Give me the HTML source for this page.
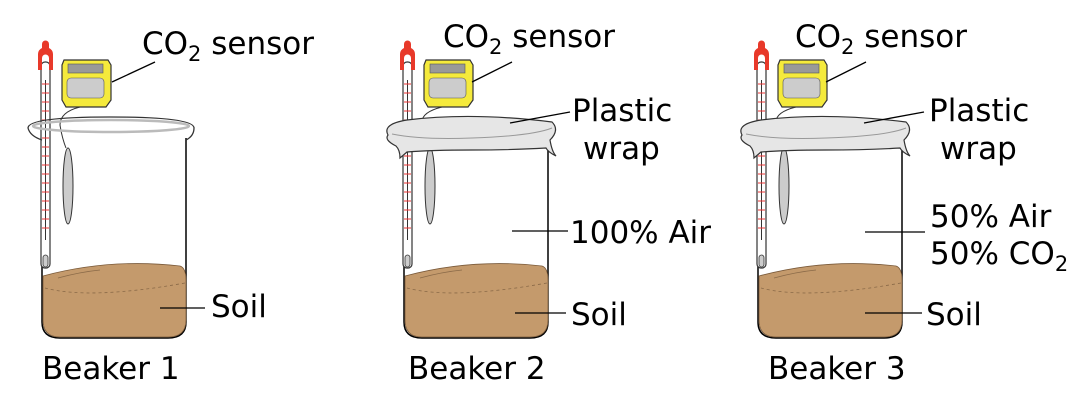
<!DOCTYPE html>
<html><head><style>
html,body{margin:0;padding:0;background:#fff;}
svg{display:block;}
text{font-family:"DejaVu Sans","Liberation Sans",sans-serif;font-size:31px;fill:#000;}
</style></head><body>
<svg width="1084" height="404" viewBox="0 0 1084 404" xmlns="http://www.w3.org/2000/svg">
<defs>
<g id="base">
  <path d="M42,138 L42,322 Q42,338 60,338 L168,338 Q186,338 186,322 L186,138" fill="#fff" stroke="#000" stroke-width="1.5"/>
  <path d="M43,276 Q110,258 180,266 Q186,268 186,280 L186,320 Q186,337 168,337 L60,337 Q43,337 43,320 Z" fill="#c49a6c" stroke="#7a5a3a" stroke-width="0.8"/>
  <path d="M45,288 Q90,300 185,283" fill="none" stroke="#8a6a48" stroke-width="0.8" stroke-dasharray="3,3"/>
  <path d="M58,278 Q80,272 100,270" fill="none" stroke="#8a6a48" stroke-width="0.8"/>
  <rect x="41" y="62" width="9" height="206" rx="4" fill="#fff" stroke="#333" stroke-width="1.2"/>
  <line x1="45.5" y1="80" x2="45.5" y2="240" stroke="#333" stroke-width="1"/>
  <g stroke="#e33" stroke-width="1">
    <line x1="42" y1="84" x2="49" y2="84"/><line x1="42" y1="93" x2="49" y2="93"/><line x1="42" y1="102" x2="49" y2="102"/><line x1="42" y1="111" x2="49" y2="111"/><line x1="42" y1="120" x2="49" y2="120"/><line x1="42" y1="129" x2="49" y2="129"/><line x1="42" y1="138" x2="49" y2="138"/><line x1="42" y1="147" x2="49" y2="147"/><line x1="42" y1="156" x2="49" y2="156"/><line x1="42" y1="165" x2="49" y2="165"/><line x1="42" y1="174" x2="49" y2="174"/><line x1="42" y1="183" x2="49" y2="183"/><line x1="42" y1="192" x2="49" y2="192"/><line x1="42" y1="201" x2="49" y2="201"/><line x1="42" y1="210" x2="49" y2="210"/><line x1="42" y1="219" x2="49" y2="219"/><line x1="42" y1="228" x2="49" y2="228"/>
  </g>
  <rect x="43" y="255" width="5" height="12" rx="2.5" fill="#ccc" stroke="#333" stroke-width="0.8"/>
  <path d="M38,70 L38,54 Q38,50 42,48 L42,44 A3.5,3.5 0 0 1 49,44 L49,48 Q53,50 53,54 L53,70 L49,70 L49,58 A3.5,3.5 0 0 0 42,58 L42,70 Z" fill="#e8392a"/>
  <path d="M64,60 L108,60 L111,65 L111,100 L106,107 L66,107 L62,100 L62,65 Z" fill="#f5ea3c" stroke="#333" stroke-width="1.2"/>
  <rect x="68" y="64" width="35" height="9" fill="#999" stroke="#555" stroke-width="0.6"/>
  <rect x="67" y="78" width="37" height="20" rx="4" fill="#ccc" stroke="#555" stroke-width="0.6"/>
  <ellipse cx="68" cy="186" rx="5" ry="38" fill="#ccc" stroke="#333" stroke-width="1"/>
</g>
</defs>

<use href="#base"/>
<path d="M80,107 Q60,112 60,125 Q62,138 66,148" fill="none" stroke="#333" stroke-width="1"/>
<path d="M28,128 Q28,117 110,117 Q194,117 194,128 Q194,136 186,140 M42,140 Q30,136 28,128" fill="none" stroke="#333" stroke-width="1.3"/>
<ellipse cx="111" cy="126" rx="78" ry="6" fill="none" stroke="#bbb" stroke-width="2.5"/>
<line x1="112" y1="82" x2="155" y2="62" stroke="#000" stroke-width="1.3"/>
<text x="142" y="54">CO<tspan font-size="21" dy="7">2</tspan><tspan dy="-7"> sensor</tspan></text>
<line x1="160" y1="308" x2="205" y2="308" stroke="#000" stroke-width="1.3"/>
<text x="211" y="317">Soil</text>
<text x="42" y="379">Beaker 1</text>

<g transform="translate(362,0)">
  <use href="#base"/>
  <path d="M80,107 Q60,112 60,122" fill="none" stroke="#333" stroke-width="1"/>
  <path d="M26,135 Q20,124 45,120 Q110,112 190,122 Q198,130 188,140 Q190,152 194,156 Q186,152 184,148 Q150,150 110,150 Q70,150 45,152 L38,158 Q38,150 34,146 Q22,140 26,135 Z" fill="#e6e6e6" stroke="#333" stroke-width="1.2"/>
  <path d="M30,134 Q60,140 110,138 Q170,136 190,128" fill="none" stroke="#999" stroke-width="1"/>
  <line x1="110" y1="82" x2="150" y2="62" stroke="#000" stroke-width="1.3"/>
  <line x1="148" y1="123" x2="208" y2="112" stroke="#000" stroke-width="1.3"/>
  <line x1="150" y1="231" x2="206" y2="231" stroke="#000" stroke-width="1.3"/>
  <line x1="153" y1="313" x2="204" y2="313" stroke="#000" stroke-width="1.3"/>
</g>
<text x="443" y="47">CO<tspan font-size="21" dy="7">2</tspan><tspan dy="-7"> sensor</tspan></text>
<text x="572" y="121">Plastic</text>
<text x="583" y="159">wrap</text>
<text x="570" y="243">100% Air</text>
<text x="571" y="325">Soil</text>
<text x="408" y="379">Beaker 2</text>

<g transform="translate(716,0)">
  <use href="#base"/>
  <path d="M80,107 Q60,112 60,122" fill="none" stroke="#333" stroke-width="1"/>
  <path d="M26,135 Q20,124 45,120 Q110,112 190,122 Q198,130 188,140 Q190,152 194,156 Q186,152 184,148 Q150,150 110,150 Q70,150 45,152 L38,158 Q38,150 34,146 Q22,140 26,135 Z" fill="#e6e6e6" stroke="#333" stroke-width="1.2"/>
  <path d="M30,134 Q60,140 110,138 Q170,136 190,128" fill="none" stroke="#999" stroke-width="1"/>
  <line x1="110" y1="82" x2="150" y2="62" stroke="#000" stroke-width="1.3"/>
  <line x1="148" y1="123" x2="208" y2="112" stroke="#000" stroke-width="1.3"/>
  <line x1="149" y1="232" x2="209" y2="232" stroke="#000" stroke-width="1.3"/>
  <line x1="149" y1="313" x2="206" y2="313" stroke="#000" stroke-width="1.3"/>
</g>
<text x="795" y="47">CO<tspan font-size="21" dy="7">2</tspan><tspan dy="-7"> sensor</tspan></text>
<text x="929" y="121">Plastic</text>
<text x="940" y="159">wrap</text>
<text x="930" y="227">50% Air</text>
<text x="930" y="264">50% CO<tspan font-size="21" dy="7">2</tspan></text>
<text x="926" y="325">Soil</text>
<text x="768" y="379">Beaker 3</text>
</svg>
</body></html>
